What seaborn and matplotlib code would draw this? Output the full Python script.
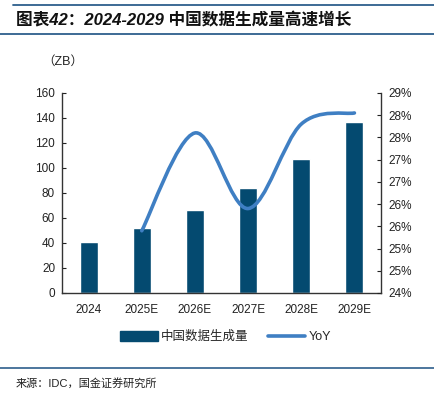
import numpy as np
import pandas as pd
import matplotlib
matplotlib.use("Agg")
import matplotlib.pyplot as plt
import seaborn as sns
from matplotlib.path import Path
from matplotlib.patches import PathPatch, Patch
from matplotlib.lines import Line2D
from matplotlib.ticker import FuncFormatter, FixedLocator

# data
years = ["2024", "2025E", "2026E", "2027E", "2028E", "2029E"]
volume_zb = [41.0, 51.8, 66.4, 83.7, 107.2, 137.0]
yoy_years = ["2025E", "2026E", "2027E", "2028E", "2029E"]
yoy_pct = [25.4, 27.6, 25.9, 27.8, 28.05]

bar_color = "#044a70"
line_color = "#3f7fc3"
rule_color = "#2d5f8c"

sns.set_style("white")
plt.rcParams["font.family"] = ["Liberation Sans", "Noto Sans CJK SC"]
plt.rcParams["axes.unicode_minus"] = False


def smooth_path(xs, ys):
    """Excel-like smoothed line as cubic bezier segments (Catmull-Rom style)."""
    pts = np.column_stack([xs, ys]).astype(float)
    padded = np.vstack([pts[0], pts, pts[-1]])
    verts = [pts[0]]
    codes = [Path.MOVETO]
    for i in range(len(pts) - 1):
        p0, p1, p2, p3 = padded[i], padded[i + 1], padded[i + 2], padded[i + 3]
        c1 = p1 + (p2 - p0) / 6.0
        c2 = p2 - (p3 - p1) / 6.0
        verts += [c1, c2, p2]
        codes += [Path.CURVE4] * 3
    return Path(verts, codes)


fig = plt.figure(figsize=(4.34, 3.99), dpi=100)
ax = fig.add_axes([0.1429, 0.2657, 0.735, 0.5013])

df = pd.DataFrame({"year": years, "volume": volume_zb})
sns.barplot(data=df, x="year", y="volume", color=bar_color, width=0.34,
            saturation=1, ax=ax, zorder=2)
ax.set_xlim(-0.5, len(years) - 0.5)
ax.set_ylim(0, 160)
ax.set_yticks(np.arange(0, 161, 20))
ax.set_xlabel("")
ax.set_ylabel("")
ax.tick_params(axis="y", direction="in", length=3, width=0.8, labelsize=8.5,
               colors="#222222", pad=5)
ax.tick_params(axis="x", which="major", length=0, labelsize=8.5, pad=8,
               colors="#222222")
ax.xaxis.set_minor_locator(FixedLocator(np.arange(-0.5, len(years), 1.0)))
ax.tick_params(axis="x", which="minor", direction="in", length=3, width=0.8)
for side in ["left", "bottom"]:
    ax.spines[side].set_color("#333333")
    ax.spines[side].set_linewidth(1.0)
ax.spines["top"].set_visible(False)
ax.spines["right"].set_visible(False)

ax2 = ax.twinx()
ax2.set_ylim(24, 28.5)
ax2.set_yticks(np.arange(24, 28.51, 0.5))
ax2.yaxis.set_major_formatter(FuncFormatter(lambda v, _: f"{int(np.floor(v + 0.5))}%"))
ax2.tick_params(axis="y", direction="in", length=3, width=0.8, labelsize=8.5,
                colors="#222222", pad=5)
ax2.spines["right"].set_color("#333333")
ax2.spines["right"].set_linewidth(1.0)
for side in ["top", "left", "bottom"]:
    ax2.spines[side].set_visible(False)

xpos = [years.index(y) for y in yoy_years]
ax2.add_patch(PathPatch(smooth_path(xpos, yoy_pct), facecolor="none",
                        edgecolor=line_color, lw=2.6, capstyle="round",
                        joinstyle="round", zorder=3))

# unit label
fig.text(0.097, 0.845, "（ZB）", fontsize=9, color="#222222", ha="left", va="center")

# legend
handles = [Patch(facecolor=bar_color, edgecolor=bar_color),
           Line2D([0], [0], color=line_color, lw=2.6)]
fig.legend(handles, ["中国数据生成量", "YoY"], loc="center",
           bbox_to_anchor=(0.52, 0.155), ncol=2, frameon=False, fontsize=9,
           handlelength=3.0, handleheight=0.8, handletextpad=0.3,
           columnspacing=1.5)

# title with rules
fig.text(0.037, 0.95, "图表42：2024-2029 中国数据生成量高速增长", fontsize=12,
         fontweight="bold", style="italic", color="#111111", ha="left", va="center")
fig.add_artist(Line2D([0.03, 1.0], [0.9875, 0.9875], color=rule_color, lw=1.3))
fig.add_artist(Line2D([0.0, 1.0], [0.915, 0.915], color=rule_color, lw=1.3))

# source
fig.add_artist(Line2D([0.0, 1.0], [0.078, 0.078], color=rule_color, lw=1.2))
fig.text(0.035, 0.04, "来源：IDC，国金证券研究所", fontsize=8, color="#222222",
         ha="left", va="center")

fig.savefig("out.png", dpi=100)
